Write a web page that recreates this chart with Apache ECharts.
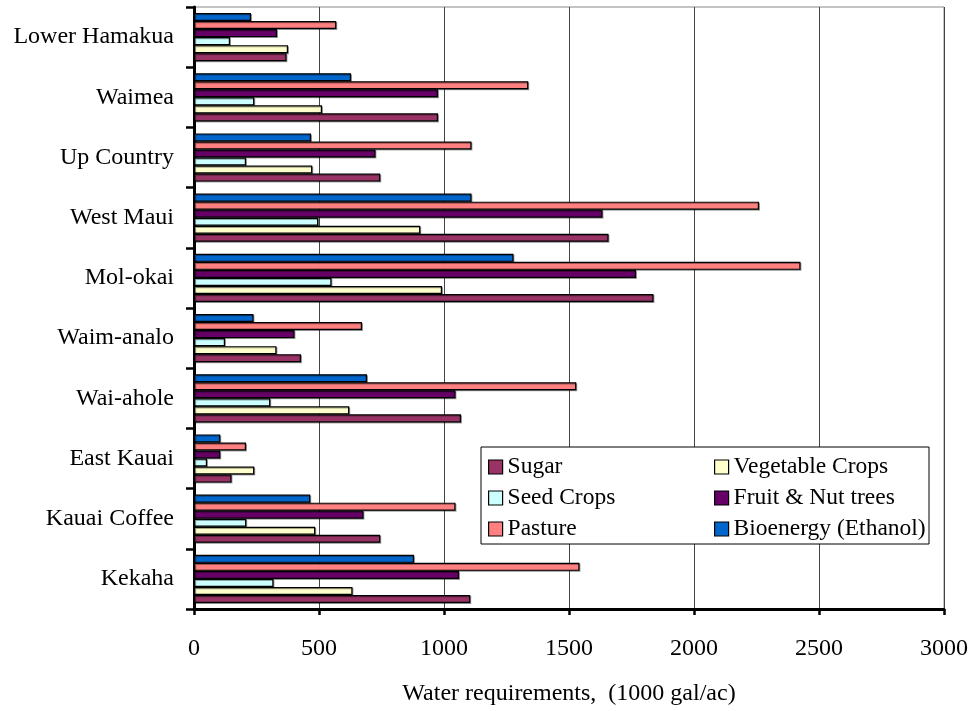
<!DOCTYPE html>
<html>
<head>
<meta charset="utf-8">
<script src="https://cdn.jsdelivr.net/npm/echarts@6/dist/echarts.min.js"></script>
<style>
html,body{margin:0;padding:0;background:#fff;}
#chart{width:974px;height:711px;}
</style>
</head>
<body>
<div id="chart"></div>
<script>
// Categories listed bottom to top
const categories = ['Kekaha', 'Kauai Coffee', 'East Kauai', 'Wai-ahole', 'Waim-analo', 'Mol-okai', 'West Maui', 'Up Country', 'Waimea', 'Lower Hamakua'];
const sugar      = [1105, 745, 150, 1068, 428, 1838, 1658, 745, 976, 370];
const vegetable  = [634, 485, 241, 621, 330, 992, 905, 473, 512, 376];
const seed       = [318, 209, 52, 305, 124, 550, 497, 208, 241, 144];
const fruitNut   = [1060, 678, 105, 1046, 402, 1768, 1634, 726, 976, 332];
const pasture    = [1542, 1046, 208, 1529, 672, 2426, 2260, 1110, 1337, 569];
const bioenergy  = [880, 465, 105, 692, 238, 1278, 1110, 468, 628, 228];
const xTicks = [0, 500, 1000, 1500, 2000, 2500, 3000];

const seriesDefs = [
  {name: 'Sugar', data: sugar, color: '#993366'},
  {name: 'Vegetable Crops', data: vegetable, color: '#FFFFCC'},
  {name: 'Seed Crops', data: seed, color: '#CCFFFF'},
  {name: 'Fruit & Nut trees', data: fruitNut, color: '#660066'},
  {name: 'Pasture', data: pasture, color: '#FF8080'},
  {name: 'Bioenergy (Ethanol)', data: bioenergy, color: '#0066CC'}
];

const FONT = 'Liberation Serif';
const chart = echarts.init(document.getElementById('chart'), null, {renderer: 'canvas'});

const legendText = {fontFamily: FONT, fontSize: 23.5, color: '#000'};
const legendCommon = {
  orient: 'vertical', itemWidth: 14, itemHeight: 14, itemGap: 7, padding: 0, z: 10,
  textStyle: legendText, itemStyle: {borderColor: '#000', borderWidth: 1.2},
  icon: 'rect', selectedMode: false
};

chart.setOption({
  animation: false,
  backgroundColor: '#fff',
  grid: {left: 194, right: 30, top: 7, bottom: 102, show: true, borderColor: '#888', borderWidth: 1},
  xAxis: {
    type: 'value', min: xTicks[0], max: xTicks[xTicks.length - 1], interval: 500,
    name: 'Water requirements,  (1000 gal/ac)', nameLocation: 'middle', nameGap: 73,
    nameTextStyle: {fontFamily: FONT, fontSize: 24, color: '#000'},
    axisLine: {show: true, lineStyle: {color: '#000', width: 3}},
    axisTick: {show: true, length: 6, lineStyle: {color: '#000', width: 2.5}},
    axisLabel: {fontFamily: FONT, fontSize: 24, color: '#000', margin: 28, formatter: v => String(v)},
    splitLine: {show: true, lineStyle: {color: '#444', width: 1}}
  },
  yAxis: {
    type: 'category', data: categories,
    axisLine: {show: true, lineStyle: {color: '#000', width: 3}},
    axisTick: {show: true, length: 8, lineStyle: {color: '#000', width: 2.5}},
    axisLabel: {fontFamily: FONT, fontSize: 24, color: '#000', margin: 20},
    splitLine: {show: false}
  },
  legend: [
    Object.assign({}, legendCommon, {left: 488, top: 455, data: ['Sugar', 'Seed Crops', 'Pasture']}),
    Object.assign({}, legendCommon, {left: 714, top: 455, data: ['Vegetable Crops', 'Fruit & Nut trees', 'Bioenergy (Ethanol)']})
  ],
  graphic: [{
    type: 'rect', z: 5, shape: {x: 481, y: 447, width: 448, height: 97},
    style: {fill: '#fff', stroke: '#000', lineWidth: 1}
  }],
  // reversed so Sugar sits at the bottom of each group, Bioenergy at the top
  series: seriesDefs.slice().reverse().map(s => ({
    type: 'bar', name: s.name, data: s.data,
    barGap: '0%', barCategoryGap: '20%',
    itemStyle: {color: s.color, borderColor: '#000', borderWidth: 1.2,
      shadowColor: 'rgba(0,0,0,0.35)', shadowOffsetX: 1, shadowOffsetY: 1, shadowBlur: 0}
  }))
});
</script>
</body>
</html>
